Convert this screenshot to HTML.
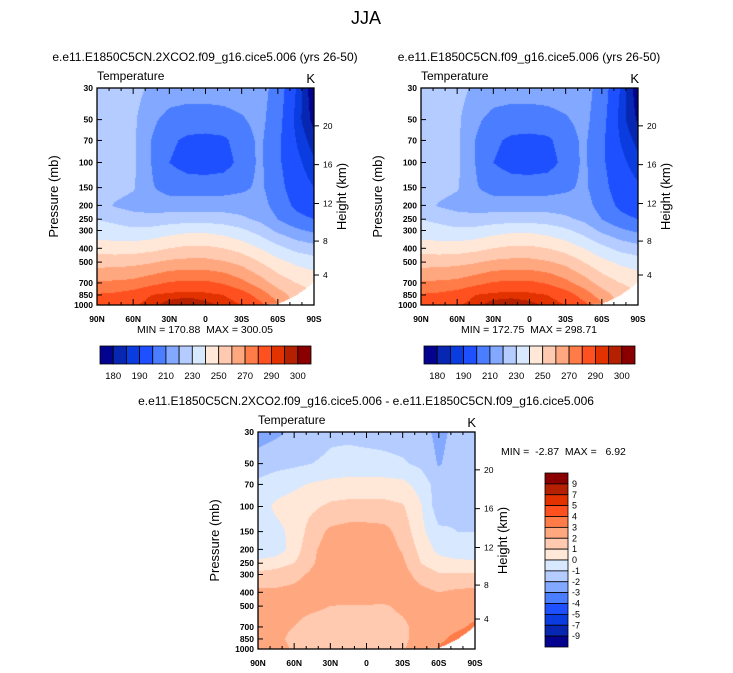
<!DOCTYPE html>
<html><head><meta charset="utf-8">
<style>
html,body{margin:0;padding:0;background:#fff;}
body{width:733px;height:673px;overflow:hidden;position:relative;font-family:"Liberation Sans",sans-serif;}
canvas{position:absolute;}
svg{position:absolute;left:0;top:0;}
text{white-space:pre;}
</style></head>
<body>
<canvas id="c1" width="217" height="217" style="left:97px;top:88px"></canvas>
<canvas id="c2" width="217" height="217" style="left:421px;top:88px"></canvas>
<canvas id="c3" width="217" height="217" style="left:258px;top:432px"></canvas>
<svg id="s" width="733" height="673"></svg>
<script>
const lats=[90,75,60,45,30,15,0,-15,-30,-45,-60,-75,-90];
const pres=[30,50,70,100,150,200,250,300,400,500,700,850,1000];
const tempA=[
[225,225,224,218,215,214,214,214,215,214,206,190,175],
[225,225,222,212,207,206,206,207,209,213,204,188,178],
[225,225,222,210,202,198,197,198,205,212,202,190,182],
[225,225,222,210,200,196,195,196,203,212,202,192,186],
[224,224,221,211,206,205,205,206,208,212,204,194,190],
[225,219,216,215,215,215,215,215,215,214,206,198,194],
[230,228,225,224,225,226,226,225,222,218,210,203,200],
[234,233,232,233,236,238,238,236,232,226,218,212,208],
[246,245,245,247,250,252,252,250,246,240,233,227,224],
[256,256,257,259,262,263,263,261,257,250,243,238,235],
[271,272,273,277,281,282,282,279,273,265,256,250,247],
[281,282,285,290,292,293,292,290,285,276,265,256,250],
[283,285,289,293,298,300.5,297,294,290,283,272,256,245]];
const tempB=[
[225,225,224,218,215,214,214,214,215,214,206,190,176],
[225,225,222,212,207,206,206,207,209,213,204,188,179],
[225,225,222,210,202,198,197,198,205,212,202,190,183],
[225,225,222,210,200,196,195,196,203,212,202,192,187],
[224,224,221,211,206,205,205,206,208,212,204,194,191],
[225,219,216,215,215,215,215,215,215,214,206,198,194],
[230,228,225,224,225,226,226,225,222,218,210,203,200],
[234,233,232,233,236,238,238,236,232,226,218,212,208],
[246,245,245,247,250,252,252,250,246,240,233,227,224],
[256,256,257,259,262,263,263,261,257,250,243,238,235],
[271,272,273,277,281,282,282,279,273,265,256,250,247],
[281,282,285,290,292,293,292,290,285,276,265,256,250],
[283,285,289,293,298,299,297,294,290,283,272,256,245]];
const diff=[
[-2.5,-2.2,-1.8,-1.5,-1.2,-1.2,-1.3,-1.3,-1.4,-1.6,-2.3,-1.7,-1.5],
[-1.5,-1.3,-1.2,-1.0,-0.8,-0.7,-0.7,-0.8,-0.9,-1.2,-2.1,-1.5,-1.2],
[-0.8,-0.5,-0.2,0.1,0.3,0.4,0.4,0.4,0.3,-0.4,-1.5,-1.2,-1.0],
[-0.5,0.2,0.5,0.8,1.2,1.3,1.3,1.3,1.1,0.1,-1.6,-1.2,-1.0],
[-0.6,-0.3,0.3,1.5,2.2,2.4,2.4,2.3,1.6,0.3,-0.8,-1.0,-1.0],
[-0.8,-0.6,0.5,1.8,2.5,2.6,2.6,2.5,1.9,0.7,-0.3,-0.5,-0.6],
[0.3,0.6,1.0,1.9,2.6,2.7,2.7,2.6,2.2,1.0,0.4,0.2,0.2],
[1.3,1.4,1.7,2.2,2.7,2.8,2.8,2.7,2.4,1.6,1.1,1.1,1.1],
[2.2,2.2,2.3,2.5,2.7,2.8,2.8,2.7,2.5,2.3,2.0,2.2,2.3],
[2.3,2.3,2.3,2.2,2.0,1.9,1.9,1.9,2.2,2.4,2.4,2.5,2.5],
[2.2,2.2,2.0,1.6,1.5,1.5,1.5,1.6,1.8,2.4,2.6,2.8,3.2],
[2.3,2.2,1.8,1.5,1.5,1.5,1.5,1.6,1.8,2.4,2.8,3.3,3.6],
[2.5,2.3,1.9,1.6,1.6,1.6,1.6,1.7,1.9,2.5,3.1,3.5,3.8]];
const surfP=[1000,1000,1000,1000,1000,1000,1000,1000,1000,1000,985,860,690];
const tLevels=[180,185,190,200,210,220,230,240,250,260,270,280,290,295,300];
const dLevels=[-9,-7,-5,-4,-3,-2,-1,0,1,2,3,4,5,7,9];
const colors=['#03038f','#0727b3','#0b3ce0','#1e50ff','#4a7dff','#82a8ff','#b4ccff','#d8e8ff','#ffe8d8','#ffcab0','#ffa880','#ff7c48','#ff5020','#e23200','#b42000','#8a0000'];
const pTicks=[30,50,70,100,150,200,250,300,400,500,700,850,1000];
const latTickVals=[90,60,30,0,-30,-60,-90];
const latTickLabels=['90N','60N','30N','0','30S','60S','90S'];
const kmTicks=[4,8,12,16,20];
const kmPres=[616,356,194,103.5,55.3];
const tBarLabelIdx=[0,2,4,6,8,10,12,14];

const W=217,H=217,L0=Math.log(1000),L1=Math.log(30);
function yOfP(p){return H-(L0-Math.log(p))/(L0-L1)*H;}
function xOfLat(la){return (90-la)/180*W;}
function rgb(h){return [parseInt(h.slice(1,3),16),parseInt(h.slice(3,5),16),parseInt(h.slice(5,7),16)];}
const rgbs=colors.map(rgb);
function interp(grid,la,p){
  let fi=(90-la)/15; let i=Math.min(11,Math.max(0,Math.floor(fi))); let tx=fi-i;
  let lp=Math.log(p); let j=0;
  while(j<pres.length-2 && Math.log(pres[j+1])<lp) j++;
  let ty=(lp-Math.log(pres[j]))/(Math.log(pres[j+1])-Math.log(pres[j]));
  ty=Math.max(0,Math.min(1,ty));
  const a=grid[j][i],b=grid[j][i+1],c=grid[j+1][i],d=grid[j+1][i+1];
  return (a*(1-tx)+b*tx)*(1-ty)+(c*(1-tx)+d*tx)*ty;
}
function level(v,lv){let k=0;while(k<lv.length&&v>=lv[k])k++;return k;}
function draw(id,grid,lv){
  const ctx=document.getElementById(id).getContext('2d');
  const im=ctx.createImageData(W,H);
  for(let y=0;y<H;y++){const p=Math.exp(L1+(y+0.5)/H*(L0-L1));
    for(let x=0;x<W;x++){const la=90-(x+0.5)/W*180;
      let fi=(90-la)/15,i=Math.min(11,Math.floor(fi)),t=fi-i;
      const sp=surfP[i]*(1-t)+surfP[i+1]*t;
      let c=[255,255,255];
      if(p<=sp) c=rgbs[level(interp(grid,la,p),lv)];
      const o=(y*W+x)*4;im.data[o]=c[0];im.data[o+1]=c[1];im.data[o+2]=c[2];im.data[o+3]=255;}}
  ctx.putImageData(im,0,0);
}
draw('c1',tempA,tLevels);draw('c2',tempB,tLevels);draw('c3',diff,dLevels);

const svg=document.getElementById('s');const NS='http://www.w3.org/2000/svg';
function el(tag,attrs,txt){const e=document.createElementNS(NS,tag);for(const k in attrs)e.setAttribute(k,attrs[k]);if(txt!==undefined)e.textContent=txt;svg.appendChild(e);return e;}
function txt(x,y,s,size,anchor,name,extra){const e=el('text',Object.assign({x:x,y:y,'font-size':size,'text-anchor':anchor||'middle','font-family':'Liberation Sans, sans-serif',fill:'#000'},extra||{}),s);


return e;}
function axes(ox,oy,prefix){
  const f=el('rect',{x:ox,y:oy,width:W,height:H,fill:'none',stroke:'#000','stroke-width':1.3});
  
  
  pTicks.forEach(p=>{const y=oy+yOfP(p);
    el('line',{x1:ox,x2:ox+5,y1:y,y2:y,stroke:'#000'});
    txt(ox-4,y+3,String(p),8.5,'end',prefix+'-y-tick-label',{'font-weight':'bold'});});
  for(let la=90;la>=-90;la-=10){const x=ox+xOfLat(la);const major=la%30===0;
    el('line',{x1:x,x2:x,y1:oy+H,y2:oy+H-(major?6:3),stroke:'#000'});
    el('line',{x1:x,x2:x,y1:oy,y2:oy+(major?6:3),stroke:'#000'});}
  latTickVals.forEach((la,k)=>{txt(ox+xOfLat(la),oy+H+17,latTickLabels[k],8.5,'middle',prefix+'-x-tick-label',{'font-weight':'bold'});});
  kmTicks.forEach((km,k)=>{const y=oy+yOfP(kmPres[k]);
    el('line',{x1:ox+W,x2:ox+W+5,y1:y,y2:y,stroke:'#000'});
    txt(ox+W+9,y+3,String(km),8.5,'start',prefix+'-right-tick-label');});
  txt(ox,oy-8,'Temperature',12,'start',prefix+'-variable-label');
  txt(ox+W+1,oy-5,'K',13,'end',prefix+'-units-label');
  txt(0,0,'Pressure (mb)',13,'middle',prefix+'-y-axis-title',{transform:`translate(${ox-39},${oy+H/2}) rotate(-90)`});
  txt(0,0,'Height (km)',13,'middle',prefix+'-right-axis-title',{transform:`translate(${ox+W+32},${oy+H/2}) rotate(-90)`});
}
axes(97,88,'top-left');axes(421,88,'top-right');axes(258,432,'bottom');
txt(366,24,'JJA',18,'middle','main-title');
txt(205,61,'e.e11.E1850C5CN.2XCO2.f09_g16.cice5.006 (yrs 26-50)',12,'middle','top-left-title');
txt(529,61,'e.e11.E1850C5CN.f09_g16.cice5.006 (yrs 26-50)',12,'middle','top-right-title');
txt(366,405,'e.e11.E1850C5CN.2XCO2.f09_g16.cice5.006 - e.e11.E1850C5CN.f09_g16.cice5.006',12,'middle','bottom-title');
txt(205,333,'MIN = 170.88  MAX = 300.05',10.5,'middle','top-left-minmax');
txt(529,333,'MIN = 172.75  MAX = 298.71',10.5,'middle','top-right-minmax');
txt(501,455,'MIN =  -2.87  MAX =   6.92',10.5,'start','bottom-minmax');
function hbar(x0,y0,w,h,prefix){const bw=w/colors.length;
  colors.forEach((c,k)=>{const r=el('rect',{x:x0+k*bw,y:y0,width:bw,height:h,fill:c,stroke:'#000','stroke-width':0.8});
    
    });
  tBarLabelIdx.forEach(i=>{txt(x0+(i+1)*bw,y0+h+15,String(tLevels[i]),9.5,'middle',prefix+'-colorbar-label');});}
hbar(100,346,211,18,'top-left');hbar(424,346,211,18,'top-right');
(function(){const x0=545,y0=473,w=23,h=174,bh=h/colors.length;
  for(let k=0;k<colors.length;k++){const c=colors[colors.length-1-k];
    const r=el('rect',{x:x0,y:y0+k*bh,width:w,height:bh,fill:c,stroke:'#000','stroke-width':0.8});
    
    }
  for(let k=0;k<dLevels.length;k++){const v=dLevels[dLevels.length-1-k];
    txt(x0+w+4,y0+(k+1)*bh+3,String(v),9,'start','bottom-colorbar-label');}})();
</script>
</body></html>
